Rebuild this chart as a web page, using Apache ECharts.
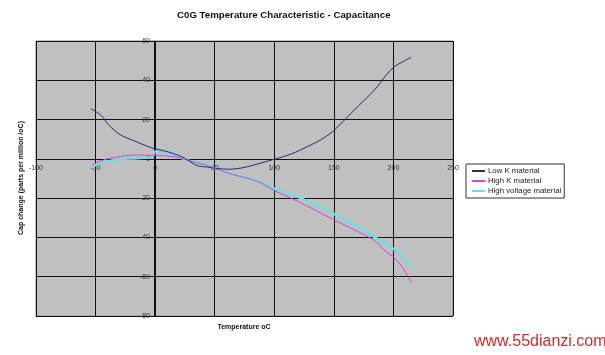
<!DOCTYPE html>
<html>
<head>
<meta charset="utf-8">
<script src="https://cdn.jsdelivr.net/npm/echarts@6/dist/echarts.min.js"></script>
<style>html,body{margin:0;padding:0;background:#fff;}#c{width:605px;height:355px;}</style>
</head>
<body>
<div id="c"></div>
<script>
var chartTitle = 'C0G Temperature Characteristic - Capacitance';
var xAxisName = 'Temperature oC';
var yAxisName = 'Cap change (parts per million /oC)';
var seriesNames = ['Low K material', 'High K material', 'High voltage material'];

var lowKTemp   = [-54, -45, -39, -29, -18, -6, 0, 10, 22, 27, 35, 44, 51, 61, 72, 83, 100, 114, 128, 139, 149, 159, 170, 184, 194, 201, 208, 215];
var lowKValues = [25.5, 22, 17.3, 12.2, 9.3, 6.3, 5.1, 3.7, 1.2, -0.5, -3.4, -4.2, -4.8, -5.3, -4.7, -3.1, -0.2, 2.4, 6.3, 9.7, 13.9, 19.8, 26.6, 35, 42.7, 47, 49.5, 51.7];

var highKTemp   = [-53, -43, -29, -15, -1, 10, 22, 33, 44, 51, 66, 86, 100, 114, 131, 150, 167, 184, 192, 201, 208, 215];
var highKValues = [-3, -0.5, 1.2, 2, 1.7, 1.5, 0.4, -1.7, -3.4, -5.1, -8.1, -11.5, -16.1, -20, -25.1, -31, -36.1, -41.6, -46.3, -50.5, -55.6, -63];

var highVTemp   = [-53, -43, -29, -15, -3, 1, 10, 22, 33, 44, 51, 66, 86, 101, 120, 137, 150, 167, 184, 201, 215];
var highVValues = [-3.9, -1.7, -0.2, 0.3, 1.0, 4.0, 3.2, 0.4, -1.7, -3, -5.1, -8.1, -11.5, -15.4, -19.5, -24.2, -28, -33.6, -39.8, -46.3, -54.8];

var watermark = 'www.55dianzi.com';

function pairs(xs, ys) { return xs.map(function (x, i) { return [x, ys[i]]; }); }

var chart = echarts.init(document.getElementById('c'), null, { renderer: 'canvas' });
var font = 'Liberation Sans, Arial, sans-serif';
chart.setOption({
  backgroundColor: '#ffffff',
  animation: false,
  title: {
    text: chartTitle,
    left: 177, top: 10,
    padding: 0,
    textStyle: { fontFamily: font, fontSize: 9.7, fontWeight: 'bold', color: '#111' }
  },
  legend: {
    orient: 'vertical',
    left: 466, top: 164,
    padding: [3, 3, 3, 6],
    itemGap: 2,
    itemWidth: 13, itemHeight: 2,
    icon: 'rect',
    borderColor: '#333', borderWidth: 1,
    backgroundColor: '#fff',
    textStyle: { fontFamily: font, fontSize: 7.8, color: '#222', padding: [0, 0, 0, -2] },
    data: seriesNames
  },
  grid: {
    left: 36, right: 152, top: 41, bottom: 39,
    show: true, backgroundColor: '#c0c0c0', borderColor: '#8a8a8a', borderWidth: 1,
    containLabel: false,
    outerBoundsMode: 'none'
  },
  xAxis: {
    type: 'value', min: -100, max: 250, interval: 50,
    position: 'bottom', offset: -157,
    axisLine: { onZero: false, lineStyle: { color: '#111', width: 1 } },
    axisTick: { show: true, length: 3, inside: false, lineStyle: { color: '#111' } },
    axisLabel: { fontFamily: font, fontSize: 7, color: '#333', margin: 6, showMinLabel: true, showMaxLabel: true },
    splitLine: { show: true, lineStyle: { color: '#111', width: 1 } }
  },
  yAxis: {
    type: 'value', min: -80, max: 60, interval: 20,
    position: 'left', offset: -118,
    axisLine: { onZero: false, lineStyle: { color: '#111', width: 1 } },
    axisTick: { show: true, length: 3, lineStyle: { color: '#111' } },
    axisLabel: { fontFamily: font, fontSize: 7, color: '#333', margin: 4, showMinLabel: true, showMaxLabel: true },
    splitLine: { show: true, lineStyle: { color: '#111', width: 1 } }
  },
  series: [
    { name: seriesNames[0], type: 'line', smooth: 0.35, showSymbol: false, symbol: 'none', color: '#2a2a72',
      lineStyle: { width: 1, color: '#2a2a72' }, data: pairs(lowKTemp, lowKValues), z: 4 },
    { name: seriesNames[1], type: 'line', smooth: 0.35, showSymbol: false, symbol: 'none', color: '#e040d8',
      lineStyle: { width: 1, color: '#e040d8' }, data: pairs(highKTemp, highKValues), z: 3 },
    { name: seriesNames[2], type: 'line', smooth: 0.35, showSymbol: false, symbol: 'none', color: '#70dede',
      lineStyle: { width: 2.5, color: '#70dede' }, data: pairs(highVTemp, highVValues), z: 2 }
  ],
  graphic: [
    { type: 'text', x: 244, y: 327, silent: true,
      style: { text: xAxisName, fontFamily: font, fontSize: 7, fontWeight: 'bold', fill: '#111', align: 'center', verticalAlign: 'middle' } },
    { type: 'text', x: 21, y: 178, rotation: Math.PI / 2, silent: true,
      style: { text: yAxisName, fontFamily: font, fontSize: 7, fontWeight: 'bold', fill: '#111', align: 'center', verticalAlign: 'middle' } },
    { type: 'text', left: 474, top: 334, silent: true,
      style: { text: watermark, fontFamily: font, fontSize: 16, fill: '#d62a2a' } }
  ]
});
</script>
</body>
</html>
